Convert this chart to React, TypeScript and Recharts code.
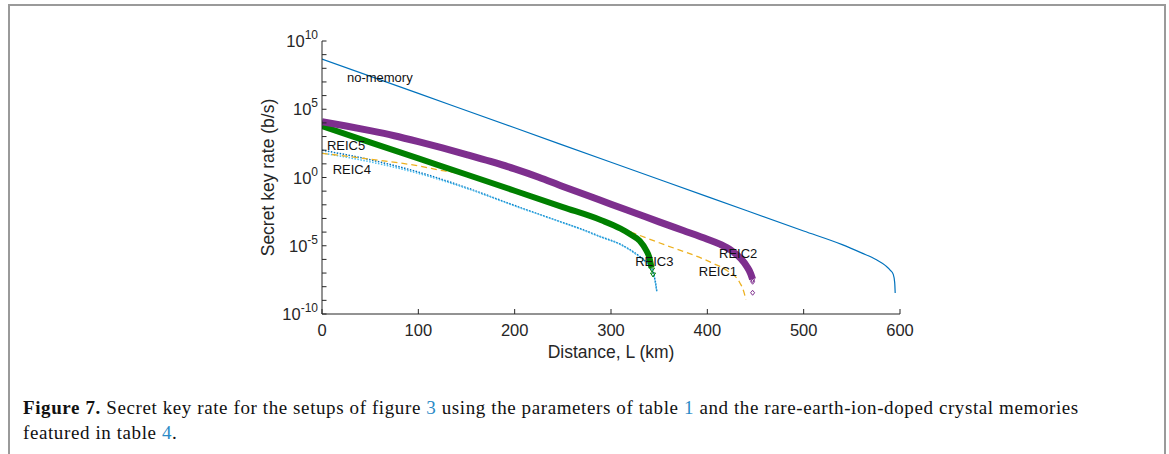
import { ComposedChart, Line, Scatter, XAxis, YAxis, ReferenceDot } from 'recharts'

// distances in km, secret key rates in b/s
const noMemoryKm = [0, 100, 200, 300, 400, 500, 540, 560, 575, 585, 590, 593, 594.5, 595]
const noMemoryRate = [4.8e8, 1.45e6, 4.4e3, 13, 4e-2, 1.2e-4, 1.2e-5, 3e-6, 1e-6, 3.5e-7, 1.6e-7, 8e-8, 2e-8, 3.5e-9]

const reic2Km = [0, 25, 50, 75, 100, 125, 150, 175, 200, 225, 250, 275, 300, 325, 350, 375, 400, 413, 425, 435, 441, 445, 447]
const reic2Rate = [1.23e4, 5.9e3, 2.7e3, 1.15e3, 427, 148, 48, 15, 4.3, 1.05, 0.22, 0.05, 1.1e-2, 2.5e-3, 5.6e-4, 1.3e-4, 3e-5, 1.3e-5, 4.5e-6, 1.1e-6, 3e-7, 9e-8, 3.5e-8]
const reic2MarkKm = [447, 447, 447]
const reic2MarkRate = [3.1e-8, 2.3e-8, 3.6e-9]

const reic3Km = [0, 50, 100, 150, 200, 250, 290, 310, 320, 330, 336, 340, 342]
const reic3Rate = [5.9e3, 380, 25, 1.66, 0.107, 6.8e-3, 7.4e-4, 1.8e-4, 7e-5, 2.2e-5, 5.5e-6, 1.2e-6, 2.5e-7]
const reic3MarkKm = [342.6, 343.6]
const reic3MarkRate = [1.66e-7, 7.2e-8]

const reic1Km = [0, 50, 100, 125, 150, 175, 200, 250, 292, 350, 406, 420, 434, 438, 440]
const reic1Rate = [59, 22, 7.1, 3.2, 1.6, 0.5, 0.11, 6.3e-3, 5.6e-4, 1.66e-5, 5.1e-7, 1.6e-7, 1.8e-8, 4e-9, 1.07e-9]

const reic5Km = [0, 50, 100, 150, 200, 250, 268, 288, 310, 320, 330, 340, 344, 346, 347.5]
const reic5Rate = [100, 20, 2.5, 0.18, 8.9e-3, 5e-4, 1.8e-4, 5e-5, 1.26e-5, 5e-6, 1.6e-6, 3.2e-7, 1e-7, 2.5e-8, 5e-9]

const reic4Km = [0, 50, 100, 150, 200, 250, 268, 288, 310, 320, 330, 340, 344, 346, 347.5]
const reic4Rate = [63, 14, 2.0, 0.16, 8.3e-3, 4.8e-4, 1.7e-4, 4.7e-5, 1.2e-5, 4.7e-6, 1.4e-6, 2.8e-7, 8.9e-8, 2e-8, 4.5e-9]

const xTicks = [0, 100, 200, 300, 400, 500, 600]
const yTicks = [1e-10, 1e-9, 1e-8, 1e-7, 1e-6, 1e-5, 1e-4, 1e-3, 1e-2, 1e-1, 1, 1e1, 1e2, 1e3, 1e4, 1e5, 1e6, 1e7, 1e8, 1e9, 1e10]

// curve labels: [text, km, rate]
const curveLabels: [string, number, number][] = [
  ['no-memory', 60, 2.2e7],
  ['REIC5', 25, 240],
  ['REIC4', 31, 4.2],
  ['REIC3', 345, 7.6e-7],
  ['REIC2', 432, 3e-6],
  ['REIC1', 411, 1.26e-7],
]

const zip = (xs: number[], ys: number[]) => xs.map((x, i) => ({ x, y: ys[i] }))

const noMemory = zip(noMemoryKm, noMemoryRate)
const reic1 = zip(reic1Km, reic1Rate)
const reic2 = zip(reic2Km, reic2Rate)
const reic3 = zip(reic3Km, reic3Rate)
const reic4 = zip(reic4Km, reic4Rate)
const reic5 = zip(reic5Km, reic5Rate)
const reic2Marks = zip(reic2MarkKm, reic2MarkRate)
const reic3Marks = zip(reic3MarkKm, reic3MarkRate)

const SANS = 'Liberation Sans, Arial, sans-serif'
const AXIS = '#262626'
const LINK = '#2a8ac6'

function YTick(props: any) {
  const { x, y, payload } = props
  const exp = Math.round(Math.log10(payload.value))
  return (
    <g>
      <line x1={x} x2={x + 4.5} y1={y} y2={y} stroke={AXIS} />
      {exp % 5 === 0 && (
        <text x={x - 4} y={y + 6} textAnchor='end' fontSize={16.5} fill={AXIS} fontFamily={SANS}>
          10
          <tspan dy={-8} fontSize={12}>
            {exp}
          </tspan>
        </text>
      )}
    </g>
  )
}

function XTick(props: any) {
  const { x, y, payload } = props
  return (
    <g>
      <line x1={x} x2={x} y1={y} y2={y - 5} stroke={AXIS} />
      <text x={x} y={y + 22} textAnchor='middle' fontSize={16.5} fill={AXIS} fontFamily={SANS}>
        {payload.value}
      </text>
    </g>
  )
}

function Diamond(props: any) {
  const { cx, cy } = props
  return <path d={`M${cx},${cy - 2.5}L${cx + 2},${cy}L${cx},${cy + 2.5}L${cx - 2},${cy}Z`} fill='none' stroke='#7E2F8E' strokeWidth={1} />
}

function Tri(props: any) {
  const { cx, cy } = props
  return <path d={`M${cx - 2.5},${cy - 2}L${cx + 2.5},${cy - 2}L${cx},${cy + 2}Z`} fill='none' stroke='#008000' strokeWidth={1} />
}

export default function App() {
  return (
    <div style={{ position: 'absolute', left: 0, top: 0, width: 1169, height: 454, background: '#fff', overflow: 'hidden' }}>
      <div
        style={{
          position: 'absolute',
          left: 8,
          top: 4,
          width: 1158,
          height: 520,
          border: '2px solid #9a9a9a',
          boxSizing: 'border-box',
        }}
      />
      <div style={{ position: 'absolute', left: 0, top: 0 }}>
        <ComposedChart width={1169} height={400} margin={{ top: 41, right: 269, bottom: 36, left: 262 }}>
          <XAxis
            type='number'
            dataKey='x'
            domain={[0, 600]}
            ticks={xTicks}
            interval={0}
            allowDataOverflow
            height={50}
            tickSize={0}
            tickMargin={0}
            tickLine={false}
            axisLine={{ stroke: AXIS }}
            tick={<XTick />}
            label={({ viewBox }: any) => (
              <text
                x={viewBox.x + viewBox.width / 2}
                y={viewBox.y + 44}
                textAnchor='middle'
                fontSize={17.5}
                fill={AXIS}
                fontFamily={SANS}
              >
                Distance, L (km)
              </text>
            )}
          />
          <YAxis
            type='number'
            dataKey='y'
            scale='log'
            domain={[1e-10, 1e10]}
            ticks={yTicks}
            interval={0}
            allowDataOverflow
            width={60}
            tickSize={0}
            tickMargin={0}
            tickLine={false}
            axisLine={{ stroke: AXIS }}
            tick={<YTick />}
            label={({ viewBox }: any) => {
              const cx = viewBox.x + 6
              const cy = viewBox.y + viewBox.height / 2
              return (
                <text
                  x={cx}
                  y={cy}
                  transform={`rotate(-90 ${cx} ${cy})`}
                  textAnchor='middle'
                  dominantBaseline='central'
                  fontSize={17.5}
                  fill={AXIS}
                  fontFamily={SANS}
                >
                  Secret key rate (b/s)
                </text>
              )
            }}
          />
          <Line data={noMemory} dataKey='y' type='monotone' stroke='#0072BD' strokeWidth={1.2} dot={false} isAnimationActive={false} />
          <Line data={reic5} dataKey='y' type='monotone' stroke='#0072BD' strokeWidth={1.5} strokeDasharray='1.5 1.5' dot={false} isAnimationActive={false} />
          <Line data={reic4} dataKey='y' type='monotone' stroke='#4DBEEE' strokeWidth={1.5} strokeDasharray='1.5 1.5' dot={false} isAnimationActive={false} />
          <Line data={reic1} dataKey='y' type='monotone' stroke='#EDB120' strokeWidth={1.3} strokeDasharray='6 4' dot={false} isAnimationActive={false} />
          <Line data={reic3} dataKey='y' type='monotone' stroke='#008000' strokeWidth={6} dot={false} isAnimationActive={false} />
          <Line data={reic2} dataKey='y' type='monotone' stroke='#7E2F8E' strokeWidth={7} dot={false} isAnimationActive={false} />
          <Scatter data={reic3Marks} dataKey='y' shape={<Tri />} isAnimationActive={false} />
          <Scatter data={reic2Marks} dataKey='y' shape={<Diamond />} isAnimationActive={false} />
          {curveLabels.map(([text, km, rate]) => (
            <ReferenceDot
              key={text}
              x={km}
              y={rate}
              r={0}
              fill='none'
              stroke='none'
              label={{ value: text, position: 'center', fontSize: 13, fill: '#111', fontFamily: SANS }}
            />
          ))}
        </ComposedChart>
      </div>
      <div
        style={{
          position: 'absolute',
          left: 23,
          top: 395,
          width: 1130,
          fontFamily: 'Liberation Serif, serif',
          fontSize: 19,
          letterSpacing: 0.6,
          lineHeight: '25px',
          color: '#111',
          whiteSpace: 'nowrap',
        }}
      >
        <b>Figure 7.</b> Secret key rate for the setups of figure <span style={{ color: LINK }}>3</span> using the
        parameters of table <span style={{ color: LINK }}>1</span> and the rare-earth-ion-doped crystal memories
        <br />
        featured in table <span style={{ color: LINK }}>4</span>.
      </div>
    </div>
  )
}
